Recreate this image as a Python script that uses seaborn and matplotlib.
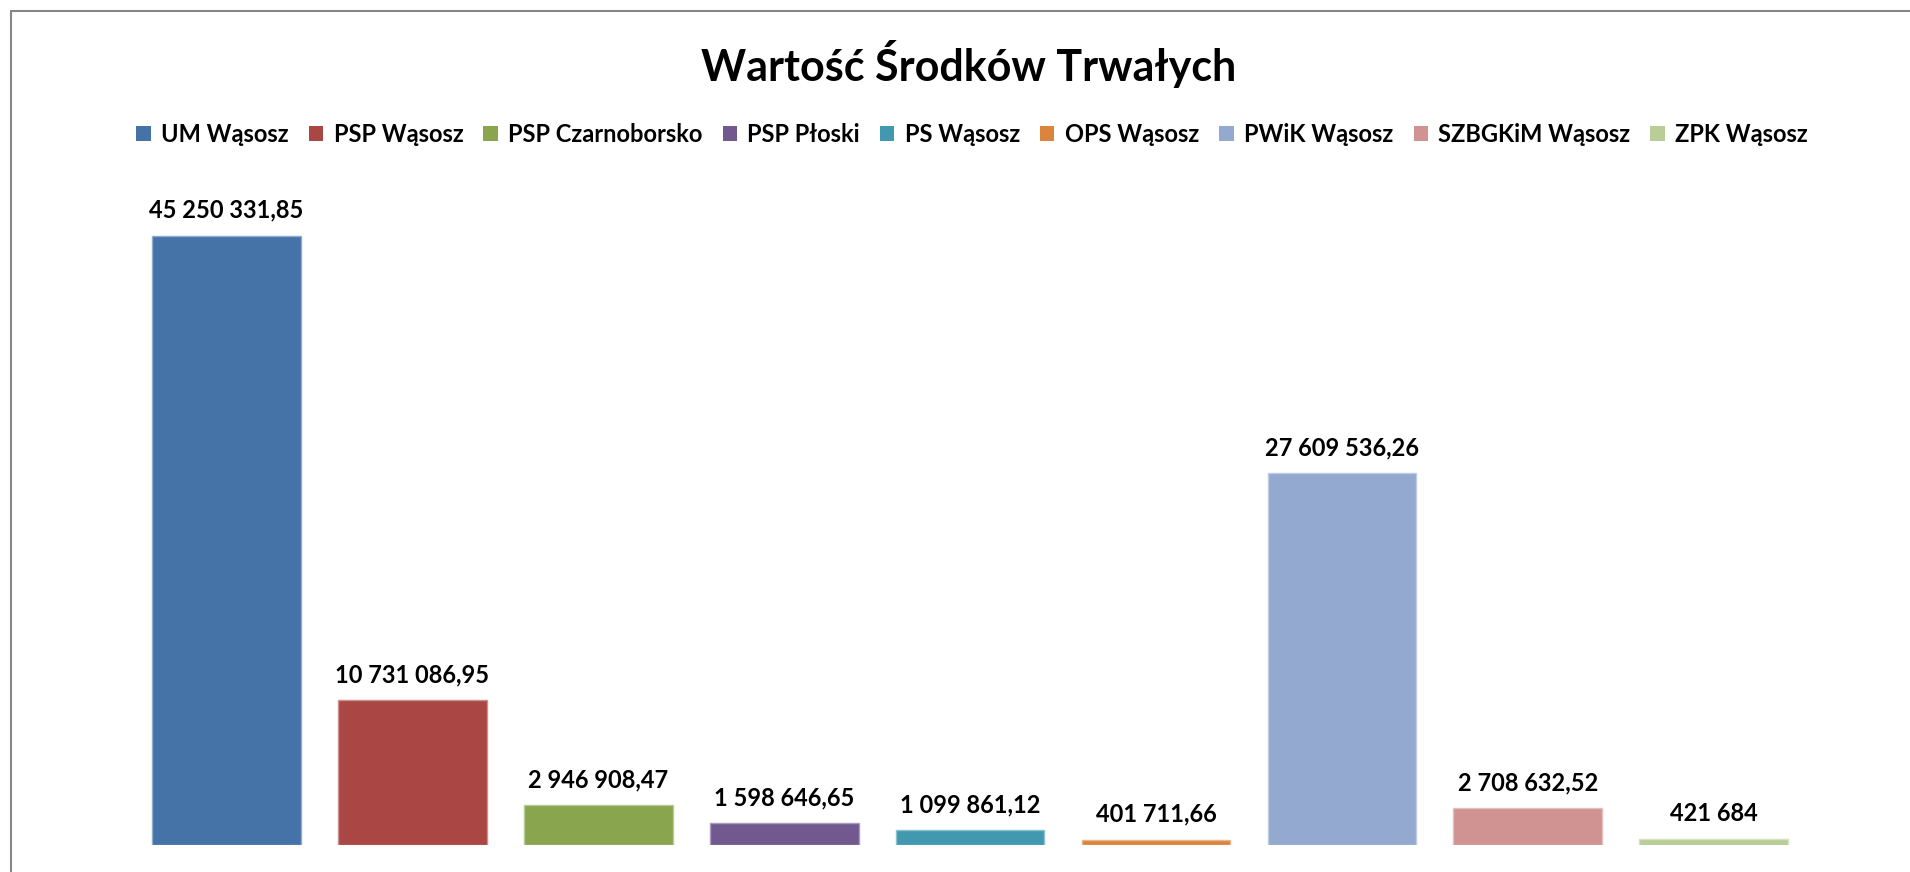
import matplotlib
matplotlib.use("Agg")
import matplotlib.pyplot as plt
import matplotlib.colors as mcolors
from matplotlib.lines import Line2D
from matplotlib.patches import Patch
import seaborn as sns

# data
units = ["UM Wąsosz", "PSP Wąsosz", "PSP Czarnoborsko", "PSP Płoski", "PS Wąsosz",
         "OPS Wąsosz", "PWiK Wąsosz", "SZBGKiM Wąsosz", "ZPK Wąsosz"]
values = [45250331.85, 10731086.95, 2946908.47, 1598646.65, 1099861.12,
          401711.66, 27609536.26, 2708632.52, 421684.00]
colors = ["#4572A7", "#AA4643", "#89A54E", "#71588F", "#4198AF",
          "#DB843D", "#93A9CF", "#D19392", "#B9CD96"]
title = "Wartość Środków Trwałych"


def pl_format(v):
    # polish number format: space for thousands, comma for decimals
    s = f"{v:,.2f}".replace(",", " ").replace(".", ",")
    if s.endswith(",00"):
        s = s[:-3]
    return s


sns.set_style("white")
plt.rcParams["font.family"] = ["Lato", "DejaVu Sans"]
plt.rcParams["text.color"] = "black"

fig = plt.figure(figsize=(19.1, 8.72), dpi=100)
ax = fig.add_axes([0.0699, 0.031, 0.876, 0.772])

sns.barplot(x=units, y=values, hue=units, palette=colors, dodge=False,
            width=0.8, legend=False, ax=ax, saturation=1)

# lighter outline like in the original chart
for bar, c in zip(ax.patches, colors):
    rgb = mcolors.to_rgb(c)
    light = tuple(x + (1 - x) * 0.4 for x in rgb)
    bar.set_edgecolor(light)
    bar.set_linewidth(1.0)

for cont in ax.containers:
    ax.bar_label(cont, labels=[pl_format(v) for v in cont.datavalues],
                 padding=10, fontsize=17, fontweight="bold", color="black")

ax.set_ylim(0, 50e6)
ax.set_xlim(-0.5, len(units) - 0.5)
ax.set_xticks([])
ax.set_yticks([])
ax.set_xlabel("")
ax.set_ylabel("")
sns.despine(ax=ax, left=True, bottom=True)

fig.text(0.507, 1 - 64 / 872, title, ha="center", va="center",
         fontsize=31, fontweight="bold", color="black")

handles = [Patch(facecolor=c, edgecolor="none") for c in colors]
fig.legend(handles, units, loc="center", bbox_to_anchor=(0.509, 1 - 134 / 872),
           ncol=len(units), frameon=False, handlelength=0.6, handleheight=0.6,
           handletextpad=0.45, columnspacing=0.85,
           prop={"weight": "bold", "size": 17})

# chart border (only top and left edges are visible in the original)
fig.add_artist(Line2D([11 / 1910, 11 / 1910], [0, 1 - 11 / 872],
                      transform=fig.transFigure, color="#868686", lw=1.5))
fig.add_artist(Line2D([11 / 1910, 1], [1 - 11 / 872, 1 - 11 / 872],
                      transform=fig.transFigure, color="#868686", lw=1.5))

fig.savefig("out.png", dpi=100)
